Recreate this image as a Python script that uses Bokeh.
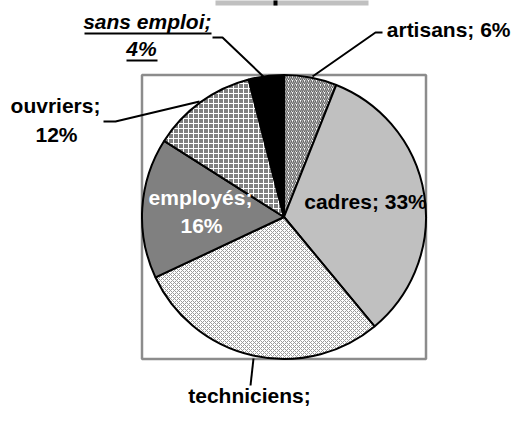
import numpy as np
from bokeh.plotting import figure
from bokeh.models import ColumnDataSource, Range1d
from bokeh.core.properties import value
from bokeh.embed import file_html
from bokeh.resources import INLINE

# ---- data ----
categories = ["artisans", "cadres", "techniciens", "employés", "ouvriers", "sans emploi"]
percent = [6, 33, 29, 16, 12, 4]

fill_colors = ["#ffffff", "#c0c0c0", "#ffffff", "#808080", "#808080", "#000000"]
hatch_patterns = ["/", " ", "x", " ", "+", " "]
hatch_colors = ["#666666", "#000000", "#9a9a9a", "#000000", "#ffffff", "#000000"]
hatch_scales = [4, 1, 4, 1, 5, 1]
hatch_weights = [1.4, 1, 1, 1, 1, 1]

FONT = "Liberation Sans"
W, H = 512, 408
TXT_DY = 8  # empirical baseline correction for svg text


def Y(py):
    # picture pixel y -> data y (y axis up)
    return H - py


p = figure(width=W, height=H, output_backend="svg", toolbar_location=None,
           x_range=Range1d(0, W), y_range=Range1d(0, H),
           min_border=0, background_fill_color="white")
p.axis.visible = False
p.grid.visible = False
p.outline_line_color = None

# title box (mostly above the visible area)
p.quad(left=[215], right=[368], bottom=[Y(5)], top=[Y(-20)],
       fill_color="#c0c0c0", line_color=None)
p.quad(left=[273], right=[277], bottom=[Y(5)], top=[Y(-2)],
       fill_color="black", line_color=None)

# pie geometry
cx, cy, r = 283.5, Y(216.5), 142.0

# plot area frame (bounding square of the pie)
p.quad(left=[cx - r], right=[cx + r], bottom=[cy - r], top=[cy + r],
       fill_color=None, line_color="#8c8c8c", line_width=2.5)

vals = np.array(percent, dtype=float)
frac = vals / vals.sum()
c1 = np.cumsum(frac)
c0 = c1 - frac
start = np.pi / 2 - 2 * np.pi * c1
end = np.pi / 2 - 2 * np.pi * c0

src = ColumnDataSource(dict(
    cat=categories, start=start, end=end, fill=fill_colors,
    hp=hatch_patterns, hc=hatch_colors, hs=hatch_scales, hw=hatch_weights,
))
p.wedge(x=cx, y=cy, radius=r, start_angle="start", end_angle="end",
        direction="anticlock", source=src,
        fill_color="fill", hatch_pattern="hp", hatch_color="hc",
        hatch_scale="hs", hatch_weight="hw",
        line_color="black", line_width=2)

# leader lines (picture coordinates)
leaders = [
    [(312, 76), (375, 32), (382, 32)],
    [(212, 37), (222, 37), (266, 79)],
    [(103, 121), (115, 121), (199, 101)],
    [(253, 358), (250, 385)],
]
p.multi_line(xs=[[a for a, b in l] for l in leaders],
             ys=[[Y(b) for a, b in l] for l in leaders],
             line_color="black", line_width=2)

lab = lambda i: f"{categories[i]}; {percent[i]}%"


def txt(x, py, s, align="center", color="black", style="bold"):
    p.text(x=[x], y=[Y(py - TXT_DY)], text=[s], text_font=value(FONT),
           text_font_size="21px", text_font_style=style,
           text_align=align, text_baseline="alphabetic", text_color=color)


txt(510, 37, lab(0), align="right")
txt(365, 209, lab(1))
txt(249, 403, f"{categories[2]};")
txt(200, 205, f"{categories[3]};", color="white")
txt(201, 233, f"{percent[3]}%", color="white")
txt(55, 113, f"{categories[4]};")
txt(56, 142, f"{percent[4]}%")
txt(211, 29, f"{categories[5]};", align="right", style="bold italic")
txt(141, 56, f"{percent[5]}%", style="bold italic")

# underlines of the italic label
p.segment(x0=[84, 126], x1=[211, 157], y0=[Y(33), Y(60)], y1=[Y(33), Y(60)],
          line_color="black", line_width=2)

open("out.html", "w").write(file_html(p, INLINE))
